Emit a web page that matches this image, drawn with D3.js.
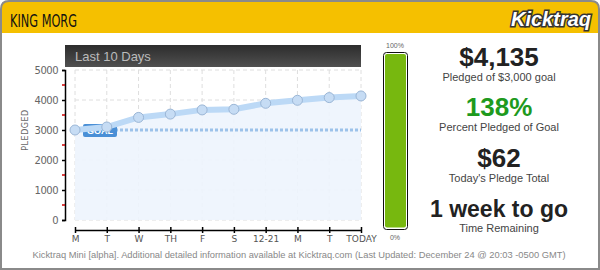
<!DOCTYPE html>
<html>
<head>
<meta charset="utf-8">
<script src="https://cdn.jsdelivr.net/npm/d3@7"></script>
<style>
  body { margin: 0; background: #fff; }
  svg { display: block; font-family: Arial, "Liberation Sans", sans-serif; }
</style>
</head>
<body>
<svg id="chart"></svg>
<script>
const days = ["M", "T", "W", "TH", "F", "S", "12-21", "M", "T", "TODAY"];
const pledged = [3000, 3100, 3420, 3530, 3670, 3690, 3890, 3990, 4080, 4135];
const goal = 3000;
const yTicks = [0, 1000, 2000, 3000, 4000, 5000];
const stats = [
    { big: "$4,135", small: "Pledged of $3,000 goal", color: "#222" },
    { big: "138%", small: "Percent Pledged of Goal", color: "#1e9a1e" },
    { big: "$62", small: "Today's Pledge Total", color: "#222" },
    { big: "1 week to go", small: "Time Remaining", color: "#222" }
];
const percent = 138;

const width = 600;
const height = 270;

const svg = d3.select("#chart").attr("width", width).attr("height", height);
const defs = svg.append("defs");

// frame + header
svg.append("path")
    .attr("d", "M1,269 L1,9 Q1,1 9,1 L591,1 Q599,1 599,9 L599,269 Z")
    .attr("fill", "#fff");
svg.append("path")
    .attr("d", "M1,33 L1,9 Q1,1 9,1 L591,1 Q599,1 599,9 L599,33 Z")
    .attr("fill", "#f5c000");
svg.append("path")
    .attr("d", "M1,269 L1,9 Q1,1 9,1 L591,1 Q599,1 599,9 L599,269 Z")
    .attr("fill", "none").attr("stroke", "#8a8a8a").attr("stroke-width", 2);

svg.append("text")
    .attr("x", 10).attr("y", 27)
    .attr("font-family", "'DejaVu Sans Condensed', 'DejaVu Sans'")
    .attr("font-size", 18)
    .attr("textLength", 67).attr("lengthAdjust", "spacingAndGlyphs")
    .attr("fill", "#111")
    .text("KING MORG");

svg.append("text")
    .attr("x", 551).attr("y", 26)
    .attr("text-anchor", "middle")
    .attr("font-size", 20).attr("font-weight", "bold").attr("font-style", "italic")
    .attr("fill", "#fff").attr("stroke", "#333").attr("stroke-width", 3)
    .attr("paint-order", "stroke")
    .text("Kicktraq");

// chart title bar
const grad = defs.append("linearGradient").attr("id", "bar").attr("x1", 0).attr("y1", 0).attr("x2", 0).attr("y2", 1);
grad.append("stop").attr("offset", "0%").attr("stop-color", "#2c2c2c");
grad.append("stop").attr("offset", "100%").attr("stop-color", "#505050");
svg.append("rect").attr("x", 65).attr("y", 45).attr("width", 296).attr("height", 22).attr("fill", "url(#bar)");
svg.append("text").attr("x", 75).attr("y", 61).attr("font-size", 13).attr("fill", "#bbb").text("Last 10 Days");

// scales
const x = d3.scalePoint().domain(d3.range(days.length)).range([75, 361]);
const y = d3.scaleLinear().domain([0, 5000]).range([220, 70]);

// grid
const grid = svg.append("g").attr("stroke", "#dedede").attr("stroke-dasharray", "4,3");
grid.selectAll(".v").data(d3.range(days.length)).enter().append("line")
    .attr("x1", d => x(d)).attr("x2", d => x(d)).attr("y1", y(5000)).attr("y2", y(0));
grid.selectAll(".h").data(yTicks).enter().append("line")
    .attr("x1", x(0)).attr("x2", x(days.length - 1)).attr("y1", d => y(d)).attr("y2", d => y(d));

// area + line
const area = d3.area().x((d, i) => x(i)).y0(y(0)).y1(d => y(d));
svg.append("path").datum(pledged).attr("d", area).attr("fill", "#edf4fd").attr("opacity", 0.9);

// goal line
svg.append("line")
    .attr("x1", 115).attr("x2", x(days.length - 1))
    .attr("y1", y(goal)).attr("y2", y(goal))
    .attr("stroke", "#9cc2ea").attr("stroke-width", 3).attr("stroke-dasharray", "3,2");
svg.append("rect").attr("x", 83).attr("y", y(goal) - 6).attr("width", 34).attr("height", 13)
    .attr("rx", 2).attr("fill", "#4a8fd6");
svg.append("text").attr("x", 100).attr("y", y(goal) + 4).attr("text-anchor", "middle")
    .attr("font-size", 9).attr("font-weight", "bold").attr("fill", "#fff").text("GOAL");

const line = d3.line().x((d, i) => x(i)).y(d => y(d));
svg.append("path").datum(pledged).attr("d", line)
    .attr("fill", "none").attr("stroke", "#bcd9f6").attr("stroke-width", 6).attr("stroke-linejoin", "round");
svg.selectAll(".pt").data(pledged).enter().append("circle")
    .attr("cx", (d, i) => x(i)).attr("cy", d => y(d)).attr("r", 5)
    .attr("fill", "#c6dcf4").attr("stroke", "#9bb6d6").attr("stroke-width", 1);

// y axis
const yAxis = svg.append("g").attr("transform", "translate(65,0)")
    .call(d3.axisLeft(y).tickValues(yTicks).tickSize(3).tickPadding(4).tickFormat(d3.format("d")));
yAxis.select(".domain").attr("stroke", "#000").attr("stroke-width", 1.5);
yAxis.selectAll(".tick line").attr("stroke", "#000").attr("stroke-width", 1.5);
yAxis.selectAll("text").attr("font-family", "'DejaVu Sans'").attr("font-size", 10)
    .attr("fill", "#666").attr("letter-spacing", "-0.5");
svg.append("g").selectAll("line").data([500, 1500, 2500, 3500, 4500]).enter().append("line")
    .attr("x1", 62).attr("x2", 65).attr("y1", d => y(d)).attr("y2", d => y(d))
    .attr("stroke", "#c00").attr("stroke-width", 1.5);

svg.append("text")
    .attr("transform", "translate(28,130) rotate(-90)")
    .attr("text-anchor", "middle")
    .attr("font-family", "'DejaVu Sans'").attr("font-size", 8).attr("letter-spacing", "0.5")
    .attr("fill", "#666").text("PLEDGED");

// x axis
const xAxis = svg.append("g").attr("transform", "translate(0,230)")
    .call(d3.axisBottom(x).tickSizeInner(-3).tickSizeOuter(0).tickPadding(6).tickFormat(i => days[i]));
xAxis.select(".domain").attr("stroke", "#000").attr("stroke-width", 1.5);
xAxis.selectAll(".tick line").attr("stroke", "#000").attr("stroke-width", 1.5).attr("y1", 3).attr("y2", -3);
xAxis.selectAll("text").attr("font-family", "'DejaVu Sans'").attr("font-size", 9).attr("fill", "#555");

// progress bar
const bar = d3.scaleLinear().domain([0, 100]).range([230, 52]).clamp(true);
svg.append("rect").attr("x", 383.5).attr("y", 52.5).attr("width", 24).attr("height", 177)
    .attr("rx", 3).attr("fill", "#fff").attr("stroke", "#111").attr("stroke-width", 1);
svg.append("rect").attr("x", 385).attr("y", bar(percent) + 2).attr("width", 21).attr("height", 228 - bar(percent) - 2 - 0.5)
    .attr("rx", 2).attr("fill", "#77b80f");
svg.append("text").attr("x", 395).attr("y", 48).attr("text-anchor", "middle")
    .attr("font-size", 7).attr("fill", "#666").text("100%");
svg.append("text").attr("x", 395).attr("y", 240).attr("text-anchor", "middle")
    .attr("font-size", 7).attr("fill", "#666").text("0%");

// stats
const statY = d3.scalePoint().domain(d3.range(stats.length)).range([66, 217]);
const st = svg.selectAll(".stat").data(stats).enter().append("g")
    .attr("transform", (d, i) => `translate(499,${statY(i)})`);
st.append("text").attr("text-anchor", "middle").attr("font-weight", "bold")
    .attr("font-size", (d, i) => i === 3 ? 23 : 26).attr("fill", d => d.color).text(d => d.big);
st.append("text").attr("y", 15).attr("text-anchor", "middle")
    .attr("font-size", 11).attr("fill", "#444").text(d => d.small);

// footer
svg.append("text").attr("x", 299).attr("y", 258).attr("text-anchor", "middle")
    .attr("font-size", 9.5).attr("fill", "#888")
    .attr("textLength", 533).attr("lengthAdjust", "spacingAndGlyphs")
    .text("Kicktraq Mini [alpha]. Additional detailed information available at Kicktraq.com (Last Updated: December 24 @ 20:03 -0500 GMT)");
</script>
</body>
</html>
